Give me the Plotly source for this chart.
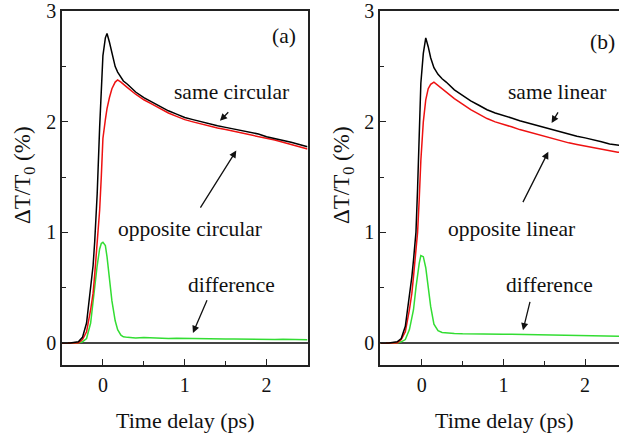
import plotly.graph_objects as go

# ---------------- data ----------------
t_a = [-0.5, -0.4, -0.3, -0.25, -0.2, -0.15, -0.12, -0.1, -0.07, -0.04, -0.02, 0.0,
       0.03, 0.05, 0.08, 0.11, 0.15, 0.18, 0.22, 0.25, 0.3, 0.4, 0.5, 0.6, 0.7, 0.8,
       0.9, 1.0, 1.1, 1.2, 1.3, 1.4, 1.5, 1.6, 1.7, 1.8, 1.9, 2.0, 2.1, 2.2, 2.3, 2.4, 2.5]
same_circular = [0.0, 0.0, 0.01, 0.05, 0.18, 0.48, 0.7, 0.92, 1.35, 1.95, 2.3, 2.6,
                 2.76, 2.8, 2.72, 2.62, 2.5, 2.45, 2.4, 2.37, 2.34, 2.27, 2.22, 2.18, 2.14, 2.1,
                 2.07, 2.04, 2.02, 2.0, 1.98, 1.965, 1.95, 1.935, 1.92, 1.905, 1.89, 1.865, 1.85,
                 1.83, 1.815, 1.795, 1.775]
opposite_circular = [0.0, 0.0, 0.0, 0.03, 0.1, 0.3, 0.45, 0.62, 0.88, 1.2, 1.5, 1.85,
                     2.02, 2.12, 2.22, 2.3, 2.36, 2.38, 2.36, 2.34, 2.31, 2.25, 2.2, 2.16, 2.12, 2.08,
                     2.05, 2.02, 2.0, 1.98, 1.96, 1.945, 1.93, 1.915, 1.9, 1.885, 1.87, 1.85, 1.835,
                     1.815, 1.795, 1.775, 1.755]
difference_a = [0.0, 0.0, 0.0, 0.01, 0.04, 0.18, 0.38, 0.5, 0.7, 0.85, 0.9, 0.91,
                0.88, 0.78, 0.58, 0.38, 0.2, 0.12, 0.07, 0.055, 0.05, 0.045, 0.048, 0.044, 0.042, 0.04,
                0.042, 0.04, 0.038, 0.04, 0.037, 0.036, 0.035, 0.036, 0.034, 0.033, 0.034, 0.032, 0.031,
                0.032, 0.03, 0.03, 0.029]

t_b = [-0.5, -0.4, -0.3, -0.25, -0.2, -0.15, -0.12, -0.1, -0.07, -0.05, -0.03, -0.01,
       0.02, 0.05, 0.08, 0.11, 0.15, 0.2, 0.25, 0.3, 0.4, 0.5, 0.6, 0.7, 0.8, 0.9,
       1.0, 1.1, 1.2, 1.3, 1.4, 1.5, 1.6, 1.7, 1.8, 1.9, 2.0, 2.1, 2.2, 2.3, 2.4, 2.5]
same_linear = [0.0, 0.0, 0.01, 0.04, 0.15, 0.42, 0.6, 0.75, 1.0, 1.4, 1.95, 2.35,
               2.62, 2.76, 2.68, 2.58, 2.49, 2.43, 2.39, 2.36, 2.29, 2.24, 2.19, 2.15, 2.11, 2.08,
               2.06, 2.035, 2.01, 1.99, 1.965, 1.945, 1.925, 1.91, 1.89, 1.87, 1.855, 1.84, 1.82,
               1.8, 1.79, 1.78]
opposite_linear = [0.0, 0.0, 0.0, 0.03, 0.1, 0.3, 0.45, 0.6, 0.85, 1.0, 1.3, 1.65,
                   2.0, 2.2, 2.3, 2.34, 2.36, 2.33, 2.3, 2.27, 2.21, 2.16, 2.11, 2.07, 2.03, 2.0,
                   1.98, 1.955, 1.93, 1.91, 1.885, 1.865, 1.845, 1.83, 1.81, 1.795, 1.78, 1.765, 1.75,
                   1.735, 1.725, 1.72]
difference_b = [0.0, 0.0, 0.0, 0.01, 0.03, 0.12, 0.22, 0.3, 0.5, 0.62, 0.72, 0.79,
                0.78, 0.68, 0.5, 0.33, 0.17, 0.11, 0.095, 0.09, 0.085, 0.082, 0.08, 0.08, 0.08, 0.079,
                0.078, 0.078, 0.077, 0.076, 0.075, 0.074, 0.072, 0.071, 0.07, 0.069, 0.068, 0.066, 0.065,
                0.063, 0.062, 0.06]

x_ticks = [0, 1, 2]
y_ticks = [0, 1, 2, 3]

FONT = "Liberation Serif, Times New Roman, serif"
BLACK = "#000000"
RED = "#ee1111"
GREEN = "#33dd33"
TXT = "#111111"

fig = go.Figure()

def add_panel(t, s1, s2, d, xa, ya):
    for yv, col in [(d, GREEN), (s2, RED), (s1, BLACK)]:
        fig.add_trace(go.Scatter(x=t, y=yv, mode="lines", xaxis=xa, yaxis=ya,
                                 line=dict(color=col, width=1.5), showlegend=False,
                                 hoverinfo="skip"))

add_panel(t_a, same_circular, opposite_circular, difference_a, "x", "y")
add_panel(t_b, same_linear, opposite_linear, difference_b, "x2", "y2")

ydom = [1 - 365 / 439, 1 - 11 / 439]

def xaxis(dom, rng, anchor):
    return dict(domain=dom, range=rng, anchor=anchor, tickvals=x_ticks,
                ticks="inside", ticklen=6, tickwidth=1.2, tickcolor="#222",
                showline=True, linecolor="#222", linewidth=1.5, mirror=True,
                showgrid=False, zeroline=False, automargin=False,
                tickfont=dict(family=FONT, size=20, color=TXT),
                ticklabelstandoff=1, ticklabeloverflow="allow",
                minor=dict(dtick=0.5, tick0=0, ticks="inside", ticklen=4, tickcolor="#222"))

def yaxis(dom, anchor, mirror):
    return dict(domain=dom, range=[-0.2, 3.003], anchor=anchor, tickvals=y_ticks,
                ticks="inside", ticklen=6, tickwidth=1.2, tickcolor="#222",
                showline=True, linecolor="#222", linewidth=1.5, mirror=mirror,
                showgrid=False, zeroline=True, zerolinecolor="#444", zerolinewidth=2.2,
                automargin=False,
                tickfont=dict(family=FONT, size=20, color=TXT),
                ticklabelstandoff=0, ticklabeloverflow="allow",
                minor=dict(dtick=0.5, tick0=0, ticks="inside", ticklen=4, tickcolor="#222"))

ann = []
def txt(x, y, s, xr, yr, size=21.5, xanchor="center"):
    ann.append(dict(x=x, y=y, xref=xr, yref=yr, text=s, showarrow=False,
                    font=dict(family=FONT, size=size, color=TXT),
                    xanchor=xanchor, yanchor="middle"))

def arrow(x0, y0, x1, y1, xr, yr):
    ann.append(dict(x=x1, y=y1, ax=x0, ay=y0, xref=xr, yref=yr, axref=xr, ayref=yr,
                    text="", showarrow=True, arrowhead=2, arrowsize=1.1,
                    arrowwidth=1.3, arrowcolor="#111"))

# panel (a)
txt(1.57, 2.27, "same circular", "x", "y")
arrow(1.55, 2.10, 1.43, 2.01, "x", "y")
txt(1.06, 1.03, "opposite circular", "x", "y")
arrow(1.18, 1.21, 1.63, 1.74, "x", "y")
txt(1.57, 0.52, "difference", "x", "y")
arrow(1.28, 0.40, 1.10, 0.09, "x", "y")
txt(2.21, 2.78, "(a)", "x", "y")

# panel (b)
txt(1.66, 2.27, "same linear", "x2", "y2")
arrow(1.68, 2.10, 1.59, 1.99, "x2", "y2")
txt(1.10, 1.03, "opposite linear", "x2", "y2")
arrow(1.23, 1.26, 1.55, 1.73, "x2", "y2")
txt(1.56, 0.52, "difference", "x2", "y2")
arrow(1.33, 0.385, 1.24, 0.115, "x2", "y2")
txt(2.39, 2.72, "(b)", "x2", "y2", xanchor="right")

# axis titles
for xc in [185 / 619, 504 / 619]:
    ann.append(dict(x=xc, y=1 - 420 / 439, xref="paper", yref="paper", text="Time delay (ps)",
                    showarrow=False, font=dict(family=FONT, size=22, color=TXT),
                    xanchor="center", yanchor="middle"))
for xc in [24 / 619, 343 / 619]:
    ann.append(dict(x=xc, y=1 - 175 / 439, xref="paper", yref="paper",
                    text="ΔT/T<sub>0</sub> (%)", textangle=-90,
                    showarrow=False, font=dict(family=FONT, size=23, color=TXT),
                    xanchor="center", yanchor="middle"))

fig.update_layout(
    width=619, height=439,
    margin=dict(l=0, r=0, t=0, b=0),
    paper_bgcolor="white", plot_bgcolor="white",
    xaxis=xaxis([62 / 619, 307.5 / 619], [-0.5, 2.5], "y"),
    yaxis=yaxis(ydom, "x", True),
    xaxis2=xaxis([380 / 619, 1.0], [-0.51, 2.415], "y2"),
    yaxis2=yaxis(ydom, "x2", False),
    annotations=ann,
)

fig.write_html("out.html", config={"displayModeBar": False},
               post_script="document.body.style.margin='0';document.body.style.padding='0';")
